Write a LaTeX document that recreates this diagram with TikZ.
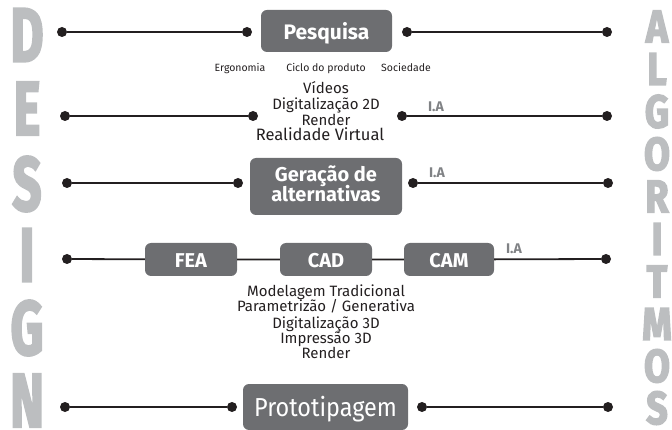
\documentclass[tikz,border=0pt]{standalone}
\usepackage{fontspec}
\setmainfont{Fira Sans}
\newfontfamily\heavyf{Fira Sans}[FakeBold=3.5]
\usepackage{graphicx}
\definecolor{boxgray}{HTML}{6D6E71}
\definecolor{lettergray}{HTML}{BCBEC0}
\definecolor{iagray}{HTML}{808285}
\definecolor{ink}{HTML}{231F20}
\begin{document}
\begin{tikzpicture}[x=1pt,y=-1pt,
  dot/.style={circle,fill=ink,inner sep=0pt,minimum size=10pt},
  conn/.style={draw=ink,line width=1.8pt},
  box/.style={fill=boxgray,rounded corners=6pt,inner sep=0pt,text=white},
  boxtxt/.style={text=white,inner sep=0pt,font=\fontsize{20}{20}\selectfont\bfseries},
  small/.style={inner sep=0pt,anchor=base,text=ink,font=\fontsize{10.5}{12}\selectfont},
  listtxt/.style={inner sep=0pt,anchor=base,text=ink,font=\fontsize{15}{16}\selectfont},
  ia/.style={inner sep=0pt,anchor=base,text=iagray,font=\fontsize{14}{14}\selectfont\bfseries},
  bigl/.style={inner sep=0pt,text=lettergray,font=\fontsize{76}{76}\heavyf\bfseries},
  bigr/.style={inner sep=0pt,text=lettergray,font=\fontsize{46}{46}\heavyf\bfseries}]
\useasboundingbox (0,0) rectangle (672,430);

% DESIGN
\node[bigl] (lD) at (27,35) {\scalebox{0.67}[1]{D}};
\node[bigl] (lE) at (27,108.5) {\scalebox{0.67}[1]{E}};
\node[bigl] (lS) at (27,184) {\scalebox{0.67}[1]{S}};
\node[bigl] (lI) at (27,255) {\scalebox{0.67}[1]{I}};
\node[bigl] (lG) at (27,328) {\scalebox{0.67}[1]{G}};
\node[bigl] (lN) at (27,400.5) {\scalebox{0.67}[1]{N}};

% ALGORITMOS
\node[bigr] (rA) at (657,26.5) {\scalebox{0.82}[1]{A}};
\node[bigr] (rL) at (657,69) {\scalebox{0.82}[1]{L}};
\node[bigr] (rG) at (657,111.5) {\scalebox{0.82}[1]{G}};
\node[bigr] (rO) at (657,154) {\scalebox{0.82}[1]{O}};
\node[bigr] (rR) at (657,196.5) {\scalebox{0.82}[1]{R}};
\node[bigr] (rI) at (657,239) {\scalebox{0.82}[1]{I}};
\node[bigr] (rT) at (657,281.5) {\scalebox{0.82}[1]{T}};
\node[bigr] (rM) at (657,324) {\scalebox{0.82}[1]{M}};
\node[bigr] (rO2) at (657,366) {\scalebox{0.82}[1]{O}};
\node[bigr] (rS) at (657,408) {\scalebox{0.82}[1]{S}};

% Row 1
\node[dot] (d1a) at (62,32) {};
\node[dot] (d1b) at (247,32) {};
\node[box,minimum width=131pt,minimum height=42pt,font=\fontsize{21}{21}\selectfont\bfseries,text height=18pt,text depth=0pt] (pesq) at (326.5,31) {Pesquisa};
\node[dot] (d1c) at (407,32) {};
\node[dot] (d1d) at (607,32) {};
\draw[conn] (d1a) -- (d1b);
\draw[conn] (d1c) -- (d1d);
\node[small] (t1a) at (240,72) {Ergonomia};
\node[small] (t1b) at (326,72) {Ciclo do produto};
\node[small] (t1c) at (406,72) {Sociedade};

% Row 2
\node[dot] (d2a) at (65,116) {};
\node[dot] (d2b) at (253,116) {};
\node[dot] (d2c) at (402,116) {};
\node[dot] (d2d) at (607,116) {};
\draw[conn] (d2a) -- (d2b);
\draw[conn] (d2c) -- (d2d);
\node[listtxt] (t2a) at (326,94) {Vídeos};
\node[listtxt] (t2b) at (326,110) {Digitalização 2D};
\node[listtxt] (t2c) at (326,126) {Render};
\node[listtxt,font=\fontsize{16.5}{18}\selectfont] (t2d) at (320,141) {Realidade Virtual};
\node[ia] (ia2) at (436,111.5) {I.A};

% Row 3
\node[dot] (d3a) at (67,183) {};
\node[dot] (d3b) at (238,183) {};
\node[box,minimum width=152pt,minimum height=57pt] (ger) at (326,186.5) {};
\node[boxtxt,anchor=base] (ger1) at (326,182) {Geração de};
\node[boxtxt,anchor=base] (ger2) at (326,202) {alternativas};
\node[dot] (d3c) at (413,183) {};
\node[dot] (d3d) at (608,183) {};
\draw[conn] (d3a) -- (d3b);
\draw[conn] (d3c) -- (d3d);
\node[ia] (ia3) at (437,177.5) {I.A};

% Row 4
\node[dot] (d4a) at (67,259) {};
\node[box,minimum width=92pt,minimum height=33pt,font=\fontsize{20}{20}\selectfont\bfseries,text height=15.6pt,text depth=0pt] (fea) at (191,259.5) {FEA};
\node[box,minimum width=92pt,minimum height=33pt,font=\fontsize{20}{20}\selectfont\bfseries,text height=15.6pt,text depth=0pt] (cad) at (326,259.5) {CAD};
\node[box,minimum width=90pt,minimum height=33pt,font=\fontsize{20}{20}\selectfont\bfseries,text height=15.6pt,text depth=0pt] (cam) at (449,259.5) {CAM};
\node[dot] (d4d) at (606,259) {};
\draw[conn] (d4a) -- (fea) -- (cad) -- (cam) -- (d4d);
\node[ia] (ia4) at (514,253.3) {I.A};
\node[listtxt] (t4a) at (326,296.7) {Modelagem Tradicional};
\node[listtxt] (t4b) at (326,311.7) {Parametrizão / Generativa};
\node[listtxt] (t4c) at (326,328) {Digitalização 3D};
\node[listtxt] (t4d) at (326,344) {Impressão 3D};
\node[listtxt] (t4e) at (326,359) {Render};

% Row 5
\node[dot] (d5a) at (65,407) {};
\node[dot] (d5b) at (232,407) {};
\node[box,minimum width=165pt,minimum height=46pt,font=\fontsize{26}{26}\selectfont,text height=18pt,text depth=0pt] (proto) at (325.5,407) {\scalebox{0.9}[1]{Prototipagem}};
\node[dot] (d5c) at (422,407) {};
\node[dot] (d5d) at (608,407) {};
\draw[conn] (d5a) -- (d5b);
\draw[conn] (d5c) -- (d5d);
\end{tikzpicture}
\end{document}
